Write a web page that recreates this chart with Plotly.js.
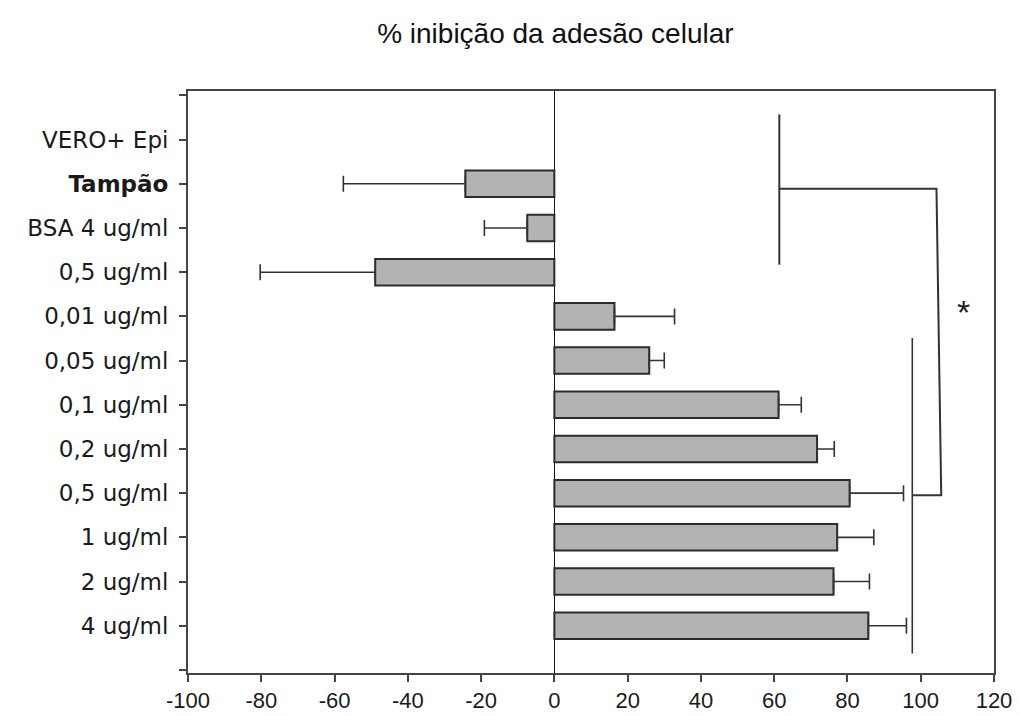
<!DOCTYPE html>
<html>
<head>
<meta charset="utf-8">
<script src="https://cdn.plot.ly/plotly-3.0.1.min.js"></script>
<style>html,body{margin:0;padding:0;background:#fff;}#chart{width:1019px;height:716px;}</style>
</head>
<body>
<div id="chart"></div>
<script>
const categories = ["VERO+ Epi", "<b>Tampão</b>", "BSA 4 ug/ml", "0,5 ug/ml", "0,01 ug/ml", "0,05 ug/ml",
  "0,1 ug/ml", "0,2 ug/ml", "0,5 ug/ml", "1 ug/ml", "2 ug/ml", "4 ug/ml"];
const values = [null, -24.3, -7.4, -48.9, 16.4, 25.9, 61.2, 71.7, 80.6, 77.2, 76.2, 85.7];
const errors = [null, 33.3, 11.7, 31.4, 16.4, 4.1, 6.2, 4.7, 14.7, 10.0, 9.8, 10.4];
const xTicks = [-100, -80, -60, -40, -20, 0, 20, 40, 60, 80, 100, 120];

// significance bracket (x in % units, y in category index units)
const bracketTopX = [61.4, 61.4];
const bracketTopY = [-0.57, 2.83];
const bracketLinkX = [61.4, 104.3, 105.6, 97.7];
const bracketLinkY = [1.11, 1.11, 8.05, 8.05];
const bracketBottomX = [97.7, 97.7];
const bracketBottomY = [4.49, 11.63];
const starPos = [111.6, 3.9];

const yIdx = categories.map((c, i) => i);
const errPlus = values.map((v, i) => v === null ? 0 : (v >= 0 ? errors[i] : 0));
const errMinus = values.map((v, i) => v === null ? 0 : (v < 0 ? errors[i] : 0));

const tickVals = [-1].concat(yIdx, [categories.length]);
const tickText = [""].concat(categories, [""]);

const lineStyle = {color: "#333", width: 2};

const traces = [
  {
    type: "bar", orientation: "h", x: values, y: yIdx, width: 0.6,
    marker: {color: "#b3b3b3", line: {color: "#2b2b2b", width: 2}},
    error_x: {type: "data", symmetric: false, array: errPlus, arrayminus: errMinus,
      color: "#333", thickness: 1.6, width: 8},
    hoverinfo: "x+y"
  },
  {type: "scatter", mode: "lines", x: bracketTopX, y: bracketTopY, line: lineStyle, hoverinfo: "skip"},
  {type: "scatter", mode: "lines", x: bracketLinkX, y: bracketLinkY, line: lineStyle, hoverinfo: "skip"},
  {type: "scatter", mode: "lines", x: bracketBottomX, y: bracketBottomY, line: {color: "#333", width: 1.6}, hoverinfo: "skip"}
];

const layout = {
  width: 1019, height: 716,
  margin: {l: 188, r: 25, t: 91, b: 43},
  paper_bgcolor: "#fff", plot_bgcolor: "#fff",
  showlegend: false,
  font: {family: "Liberation Sans, Arial, sans-serif", color: "#1a1a1a", size: 18},
  title: {text: "% inibição da adesão celular", x: 0.545, xanchor: "center", y: 0.954, yanchor: "middle",
    font: {size: 28, color: "#111", family: "Liberation Sans, Arial, sans-serif"}},
  xaxis: {
    range: [-100, 120], tickvals: xTicks, ticktext: xTicks.map(String),
    showgrid: false, zeroline: true, zerolinecolor: "#111", zerolinewidth: 1.5,
    showline: true, linecolor: "#444", linewidth: 2, mirror: true,
    ticks: "outside", ticklen: 7, tickwidth: 2, tickcolor: "#444",
    tickfont: {size: 22, color: "#1a1a1a", family: "Liberation Sans, Arial, sans-serif"}
  },
  yaxis: {
    range: [12.07, -1.1], tickvals: tickVals, ticktext: tickText,
    showgrid: false, zeroline: false,
    showline: true, linecolor: "#444", linewidth: 2, mirror: true,
    ticks: "outside", ticklen: 7, tickwidth: 2, tickcolor: "#444",
    ticklabelstandoff: 6,
    tickfont: {size: 23, color: "#1a1a1a", family: "DejaVu Sans, sans-serif"}
  },
  annotations: [{x: starPos[0], y: starPos[1], xref: "x", yref: "y", text: "*", showarrow: false,
    font: {size: 34, color: "#222"}}]
};

Plotly.newPlot("chart", traces, layout, {displayModeBar: false, staticPlot: true});
</script>
</body>
</html>
